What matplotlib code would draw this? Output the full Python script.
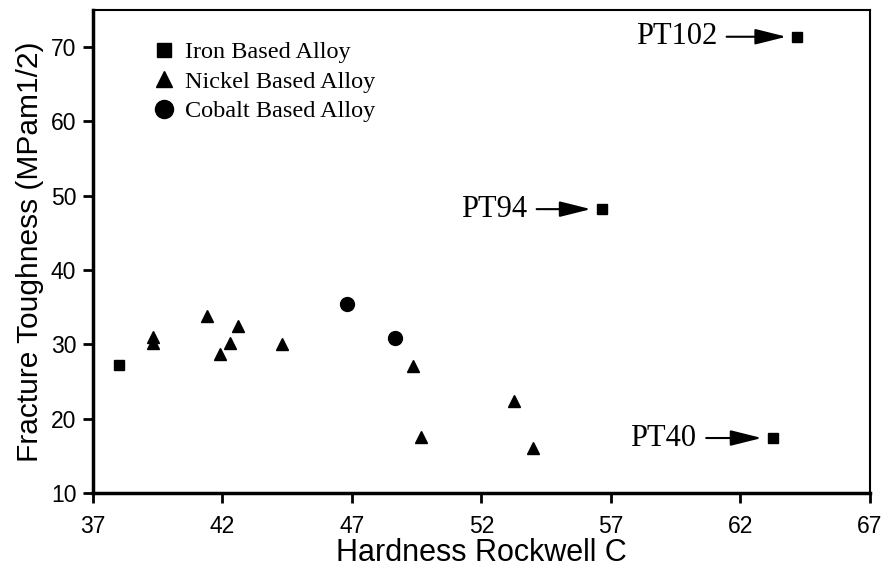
import matplotlib
matplotlib.use("Agg")
import matplotlib.pyplot as plt

# Iron based alloys
iron_x = [38.0, 56.65, 64.2, 63.25]
iron_y = [27.2, 48.2, 71.4, 17.4]
iron_names = [None, "PT94", "PT102", "PT40"]

# Nickel based alloys
nickel_x = [39.3, 39.3, 41.4, 41.9, 42.3, 42.6, 44.3, 49.35, 49.66, 53.25, 54.0]
nickel_y = [31.0, 30.2, 33.8, 28.7, 30.2, 32.5, 30.0, 27.1, 17.5, 22.4, 16.1]

# Cobalt based alloys
cobalt_x = [46.8, 48.66]
cobalt_y = [35.4, 30.9]

x_ticks = [37, 42, 47, 52, 57, 62, 67]
y_ticks = [10, 20, 30, 40, 50, 60, 70]

fig = plt.figure(figsize=(8.89, 5.74), dpi=100)
ax = fig.add_axes([0.1046, 0.1411, 0.874, 0.8415])

ax.plot(iron_x, iron_y, "s", color="black", markersize=7.5, label="Iron Based Alloy")
ax.plot(nickel_x, nickel_y, "^", color="black", markersize=9, label="Nickel Based Alloy")
ax.plot(cobalt_x, cobalt_y, "o", color="black", markersize=10, label="Cobalt Based Alloy")

serif = ["Liberation Serif", "DejaVu Serif"]
sans = ["Liberation Sans", "DejaVu Sans"]
narrow = ["Liberation Sans Narrow", "Liberation Sans", "DejaVu Sans"]

# text offsets (points) for the labelled iron points
offsets = {"PT94": -54, "PT102": -58, "PT40": -55}
for x, y, name in zip(iron_x, iron_y, iron_names):
    if name is None:
        continue
    ax.annotate(name, xy=(x, y), xytext=(offsets[name], 0), textcoords="offset points",
                ha="right", va="center", fontsize=22, family=serif,
                arrowprops=dict(arrowstyle="-|>,head_length=1.6,head_width=0.4",
                                mutation_scale=12, color="black", lw=1.5,
                                shrinkA=5, shrinkB=8))

ax.set_xlim(37, 67)
ax.set_ylim(10, 75)
ax.set_xticks(x_ticks)
ax.set_yticks(y_ticks)
ax.tick_params(direction="out", length=7, width=2, labelsize=16.5)
ax.tick_params(axis="x", pad=9)
ax.tick_params(axis="y", pad=5)
for lbl in ax.get_xticklabels() + ax.get_yticklabels():
    lbl.set_family(narrow)

ax.spines["left"].set_linewidth(2.5)
ax.spines["bottom"].set_linewidth(2.5)
ax.spines["top"].set_linewidth(1.5)
ax.spines["right"].set_linewidth(1.5)

ax.set_xlabel("Hardness Rockwell C", fontsize=22, family=sans, labelpad=0)
ax.set_ylabel("Fracture Toughness (MPam1/2)", fontsize=21.5, family=sans, labelpad=5)

ax.legend(loc="upper left", bbox_to_anchor=(0.065, 0.955), frameon=False,
          prop={"family": serif, "size": 17.5}, handletextpad=0.4,
          handlelength=0.9, labelspacing=0.3, borderaxespad=0, markerscale=1.3)

fig.savefig("out.png", dpi=100)
